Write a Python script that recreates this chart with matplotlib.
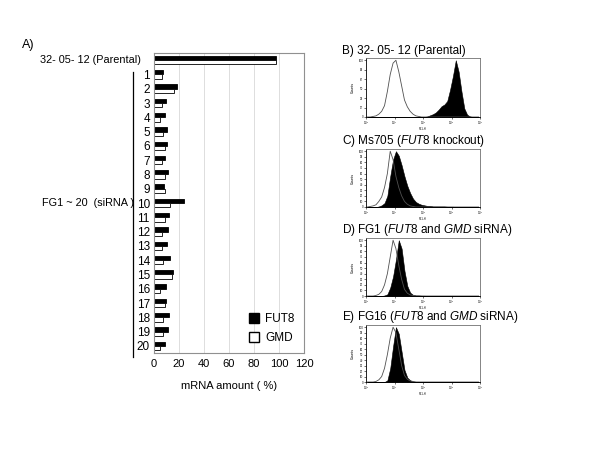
import numpy as np
import matplotlib
matplotlib.use("Agg")
import matplotlib.pyplot as plt
from matplotlib.patches import Patch
from matplotlib.transforms import blended_transform_factory

plt.rcParams["font.family"] = ["Liberation Sans", "DejaVu Sans"]
plt.rcParams["mathtext.fontset"] = "custom"
plt.rcParams["mathtext.rm"] = "Liberation Sans"
plt.rcParams["mathtext.it"] = "Liberation Sans:italic"

# --- A) mRNA amounts (%) ---
categories = ["32- 05- 12 (Parental)"] + [str(i) for i in range(1, 21)]
fut8 = [98, 7.5, 18.5, 9.5, 8.5, 10, 10.5, 9, 11.5, 8, 24,
        12, 11, 10.5, 12.5, 15, 9.5, 9.5, 12, 11, 9]
gmd = [98, 6.5, 16, 6, 5, 7.5, 8.5, 6.5, 9, 9, 13,
       8.5, 6, 6, 7, 14.5, 4.5, 8.5, 7, 7.5, 5]
x_ticks = [0, 20, 40, 60, 80, 100, 120]

# --- B-E) flow cytometry histograms, % of peak per 0.1-decade bin (FL1-H 10^0..10^4) ---
b_open = [0, 0, 1, 2, 5, 10, 20, 45, 75, 95, 100, 80, 55, 30, 18, 10, 5, 2, 1, 0,
          0, 0, 0, 0, 0, 0, 0, 0, 0, 0, 0, 0, 0, 0, 0, 0, 0, 0, 0, 0]
b_fill = [0, 0, 0, 0, 0, 0, 0, 0, 0, 0, 0, 0, 0, 0, 0, 0, 0, 0, 0, 0,
          0, 1, 3, 5, 8, 13, 19, 22, 28, 48, 72, 100, 80, 45, 15, 4, 1, 0, 0, 0]
c_open = [0, 1, 2, 4, 10, 18, 35, 60, 100, 85, 55, 35, 20, 10, 5, 2, 1, 0, 0, 0,
          0, 0, 0, 0, 0, 0, 0, 0, 0, 0, 0, 0, 0, 0, 0, 0, 0, 0, 0, 0]
c_fill = [0, 0, 0, 0, 1, 3, 7, 20, 55, 85, 100, 92, 75, 55, 38, 25, 15, 9, 6, 4,
          3, 2, 2, 1, 1, 1, 1, 1, 0.5, 0.5, 0.5, 0, 0, 0, 0, 0, 0, 0, 0, 0]
d_open = [0, 0, 0, 1, 3, 8, 20, 40, 70, 100, 85, 55, 30, 12, 5, 2, 1, 0, 0, 0,
          0, 0, 0, 0, 0, 0, 0, 0, 0, 0, 0, 0, 0, 0, 0, 0, 0, 0, 0, 0]
d_fill = [0, 0, 0, 0, 0, 0, 1, 3, 15, 35, 65, 100, 85, 45, 18, 6, 2, 1, 1, 0.5,
          0.5, 0, 0, 0, 0, 0, 0, 0, 0, 0, 0, 0, 0, 0, 0, 0, 0, 0, 0, 0]
e_open = [0, 0, 0, 1, 4, 10, 25, 50, 80, 100, 90, 60, 30, 12, 5, 2, 1, 0, 0, 0,
          0, 0, 0, 0, 0, 0, 0, 0, 0, 0, 0, 0, 0, 0, 0, 0, 0, 0, 0, 0]
e_fill = [0, 0, 0, 0, 0, 0, 0, 3, 25, 65, 100, 88, 55, 22, 8, 3, 1, 0.5, 0.5, 0,
          0, 0, 0, 0, 0, 0, 0, 0, 0, 0, 0, 0, 0, 0, 0, 0, 0, 0, 0, 0]
bin_centers_log = np.arange(0.05, 4, 0.1)

fig = plt.figure(figsize=(6, 4.5), dpi=100)

# bar chart
ax = fig.add_axes([154 / 600, 1 - 353 / 450, 150 / 600, 300 / 450])
y = np.arange(len(categories))
h = 0.3
ax.barh(y - h / 2, fut8, height=h, color="black", edgecolor="black", linewidth=0.6)
ax.barh(y + h / 2, gmd, height=h, color="white", edgecolor="black", linewidth=0.6)
ax.set_ylim(len(categories) - 0.5, -0.5)
ax.set_xlim(0, 120)
ax.set_xticks(x_ticks)
ax.tick_params(axis="x", length=0, labelsize=8, pad=4)
ax.set_yticks(y[1:])
ax.set_yticklabels(categories[1:], fontsize=8.5)
ax.tick_params(axis="y", length=0, pad=3)
ax.grid(axis="x", color="#d8d8d8", linewidth=0.6)
ax.set_axisbelow(True)
for s in ax.spines.values():
    s.set_color("#909090")
    s.set_linewidth(0.8)
ax.set_xlabel("mRNA amount ( %)", fontsize=8, labelpad=9)

trans = blended_transform_factory(ax.transAxes, ax.transData)
ax.text(-0.085, 0, categories[0], transform=trans, ha="right", va="center", fontsize=7.8)
ax.text(-0.13, 10, "FG1 ~ 20  (siRNA )", transform=trans, ha="right", va="center", fontsize=7.8)
ax.plot([-0.14, -0.14], [0.8, 20.8], transform=trans, color="black", linewidth=0.9, clip_on=False)

ax.legend(handles=[Patch(facecolor="black", edgecolor="black", label="FUT8"),
                   Patch(facecolor="white", edgecolor="black", label="GMD")],
          loc="upper left", bbox_to_anchor=(0.6, 0.15), frameon=False, fontsize=8.5,
          handlelength=0.9, handleheight=0.9, handletextpad=0.5, labelspacing=0.6,
          borderaxespad=0)

fig.text(22 / 600, 1 - 45 / 450, "A)", fontsize=9, va="center", ha="left")

# histograms
panels = [
    ("B) 32- 05- 12 (Parental)", b_open, b_fill, 58, 117, 51, 6),
    ("C) Ms705 ($\\mathit{FUT8}$ knockout)", c_open, c_fill, 149, 207, 141, 10),
    ("D) FG1 ($\\mathit{FUT8}$ and $\\mathit{GMD}$ siRNA)", d_open, d_fill, 238, 296, 230, 10),
    ("E) FG16 ($\\mathit{FUT8}$ and $\\mathit{GMD}$ siRNA)", e_open, e_fill, 325, 382, 317, 10),
]
xc = 10 ** bin_centers_log
for title, op, fl, top, bot, ty, nt in panels:
    hx = fig.add_axes([366 / 600, 1 - bot / 450, 114 / 600, (bot - top) / 450])
    hx.plot(xc, op, color="#505050", linewidth=0.6)
    hx.fill_between(xc, fl, color="black", linewidth=0.4)
    hx.set_xscale("log")
    hx.set_xlim(1, 1e4)
    hx.set_ylim(0, 104)
    hx.set_yticks(np.linspace(0, 100, nt + 1))
    hx.set_yticklabels([f"{v:.0f}" for v in np.linspace(0, 100, nt + 1)])
    hx.tick_params(labelsize=2, length=1.2, width=0.4, pad=0.8)
    hx.tick_params(which="minor", length=0.8, width=0.3)
    hx.set_ylabel("Counts", fontsize=2.5, labelpad=2.5)
    hx.set_xlabel("FL1-H", fontsize=2, labelpad=0)
    for side, s in hx.spines.items():
        s.set_linewidth(0.6)
        s.set_color("black" if side in ("left", "bottom") else "#707070")
    fig.text(342 / 600, 1 - ty / 450, title, fontsize=8.5, va="center", ha="left")

fig.savefig("out.png", dpi=100)
